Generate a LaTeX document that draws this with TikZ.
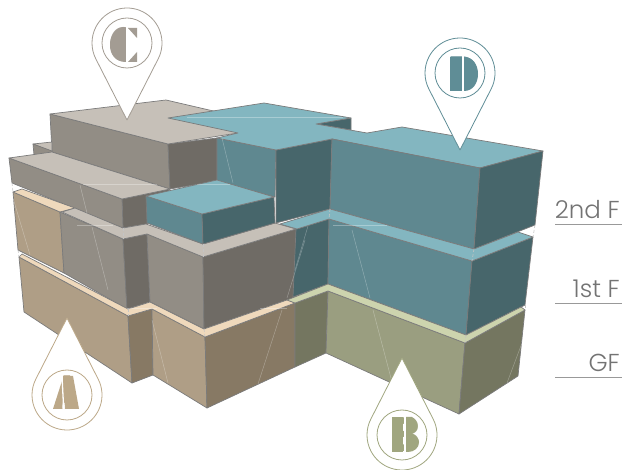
\documentclass[tikz,border=0pt]{standalone}
\usepackage{fontspec}
\usepackage{xcolor}
\usepackage{tikz}
\setmainfont{Poppins}
\newfontfamily\floorfont{Poppins Light}
\definecolor{stonetop}{HTML}{C6C0B8}
\definecolor{stoneface}{HTML}{928D85}
\definecolor{stonedark}{HTML}{6F6B65}
\definecolor{tealtop}{HTML}{83B6C0}
\definecolor{tealface}{HTML}{5F8890}
\definecolor{tealdark}{HTML}{47666B}
\definecolor{tanface}{HTML}{AF9E86}
\definecolor{tandark}{HTML}{877964}
\definecolor{creamtop}{HTML}{EFD9BC}
\definecolor{oliveface}{HTML}{9A9E80}
\definecolor{olivedark}{HTML}{747660}
\definecolor{olivetop}{HTML}{CDD4AE}
\definecolor{edgegray}{HTML}{7B7B7B}
\definecolor{pinA}{HTML}{BCA888}
\definecolor{pinB}{HTML}{A0A67F}
\definecolor{pinC}{HTML}{A39C93}
\definecolor{pinD}{HTML}{5F8D96}
\tikzset{
  slab/.style={draw=edgegray,line width=0.7pt,line join=round},
  seam/.style={white,opacity=0.3,line width=0.5pt},
  corner/.style={white!55!edgegray,line width=0.6pt,densely dashed},
  floorline/.style={gray!80,line width=0.9pt},
  floorname/.style={font=\floorfont\fontsize{24.5}{25}\selectfont,text=black!55,anchor=base east,inner sep=0pt},
  pinletter/.style={font=\bfseries\fontsize{48}{48}\selectfont,inner sep=0pt,transform shape},
  slit/.style={white,line width=2pt}
}
\begin{document}
\begin{tikzpicture}[x=1pt,y=-1pt]
\useasboundingbox (0,0) rectangle (625,470);
\begin{scope}
\fill[stoneface,slab] (50,114)--(168,144)--(170,189)--(52,152)--cycle;
\fill[stonedark,slab] (168,144)--(217,138)--(217,181)--(170,189)--cycle;
\fill[stonetop,slab] (50,114)--(166,100)--(222,113)--(238,133)--(168,144)--cycle;
\fill[tealface,slab] (217,138)--(276,150)--(275,197)--(217,181)--cycle;
\fill[tealdark,slab] (276,150)--(332,139)--(330,209)--(276,223)--cycle;
\fill[tealdark,slab] (316,124)--(351,118)--(351,130)--cycle;
\fill[tealtop,slab] (168,118)--(264,103)--(351,118)--(316,124)--(367,133)--(402,127)--(543,151)--(480,168)--(332,139)--(276,150)--(217,138)--(238,133)--cycle;
\end{scope}
\begin{scope}
\fill[stonetop,slab] (33,144)--(52,142)--(52,152)--cycle;
\fill[stoneface,slab] (33,144)--(52,151)--(52,153)--(34,155)--cycle;
\fill[stonedark,slab] (122,199)--(170,189)--(147,224)--(123,228)--cycle;
\fill[stoneface,slab] (9,158)--(122,199)--(123,228)--(12,183)--cycle;
\fill[stonetop,slab] (9,158)--(52,152)--(170,189)--(122,199)--cycle;
\end{scope}
\begin{scope}
\fill[tanface,slab] (13,192)--(60,212)--(64,273)--(18,250)--cycle;
\fill[creamtop,slab] (13,192)--(22,189)--(75,208)--(60,212)--cycle;
\fill[stoneface,slab] (60,212)--(123,239)--(127,309)--(64,273)--cycle;
\fill[stonedark,slab] (123,239)--(147,234)--(150,302)--(127,309)--cycle;
\fill[stoneface,slab] (147,234)--(203,257)--(204,329)--(150,302)--cycle;
\fill[stonedark,slab] (203,257)--(296,229)--(296,297)--(204,329)--cycle;
\fill[stonetop,slab] (62,212)--(75,208)--(123,228)--(146,224)--(203,244)--(275,223)--(296,229)--(203,257)--(147,234)--(123,239)--cycle;
\fill[tealface,slab] (146,196)--(202,214)--(203,244)--(147,223)--cycle;
\fill[tealdark,slab] (202,214)--(274,197)--(275,223)--(203,244)--cycle;
\fill[tealtop,slab] (146,196)--(217,180)--(274,197)--(202,214)--cycle;
\end{scope}
\begin{scope}
\fill[tealdark,slab] (296,229)--(329,219)--(328,284)--(293,297)--cycle;
\fill[tealface,slab] (329,219)--(472,261)--(466,335)--(328,284)--cycle;
\fill[tealdark,slab] (472,261)--(533,237)--(525,305)--(466,335)--cycle;
\fill[tealface,slab] (332,139)--(480,168)--(474,249)--(330,209)--cycle;
\fill[tealdark,slab] (480,168)--(543,151)--(535,225)--(474,249)--cycle;
\fill[tealtop,slab] (280,224)--(330,209)--(474,249)--(518,232)--(533,237)--(472,261)--(329,219)--(297,229)--cycle;
\end{scope}
\begin{scope}
\fill[tanface,slab] (19,257)--(128,316)--(132,383)--(24,312)--cycle;
\fill[tandark,slab] (128,316)--(152,309)--(153,375)--(132,383)--cycle;
\fill[tanface,slab] (152,309)--(205,337)--(207,408)--(153,375)--cycle;
\fill[tandark,slab] (205,337)--(295,303)--(295,367)--(207,408)--cycle;
\fill[creamtop,slab] (22,254)--(128,309)--(150,302)--(204,329)--(287,300)--(295,303)--(205,337)--(152,309)--(128,316)--(19,257)--cycle;
\fill[olivedark,slab] (295,303)--(328,291)--(326,353)--(295,367)--cycle;
\fill[oliveface,slab] (328,291)--(465,343)--(459,414)--(326,353)--cycle;
\fill[olivedark,slab] (465,343)--(525,310)--(518,376)--(459,414)--cycle;
\fill[olivetop,slab] (287,300)--(328,284)--(466,335)--(521,307)--(525,310)--(465,343)--(328,291)--(295,303)--cycle;
\end{scope}
\foreach \xa/\ya/\xb/\yb in {80/185/87/213,92/227/108/290,222/138/233/183,13/198/30/255,152/320/168/383,282/310/258/384,305/240/287/298,308/226/295/270,352/230/370/298,373/310/392/382,522/343/507/383,187/117/343/117,83/184/157/184,197/184/230/184,77/225/113/225,333/225/387/225,127/308/157/308,260/308/287/308}{
  \draw[seam] (\xa,\ya)--(\xb,\yb);}
\foreach \xa/\ya/\xb/\yb in {123/228/123/239,203/244/203/257,204/329/205/337,128/309/128/316,330/209/329/219,474/249/472/261,466/335/465/343,535/225/533/237,525/305/525/310,12/183/13/192,18/250/19/257}{
  \draw[corner] (\xa,\ya)--(\xb,\yb);}
\foreach \name/\cx/\cy/\flip/\ink/\lx/\ly/\sq in {C/127/43/-1/pinC/123.5/45/0.78,D/460/73/-1/pinD/464/74/0.88,A/67/395/1/pinA/67/392.5/0.67,B/402/435/1/pinB/405.5/434.5/0.96}{
  \begin{scope}[shift={(\cx,\cy)},yscale=\flip]
    \fill[white,draw=\ink,line width=0.8pt,line join=round] (0,-77)--(-27:35) arc[start angle=-27,end angle=207,radius=35]--cycle;
    \draw[\ink,line width=0.8pt] (0,0) circle[radius=25];
  \end{scope}
  \node[pinletter,text=\ink,xscale=\sq] (letter\name) at (\lx,\ly) {\name};
}
\fill[pinC] (126,28) .. controls (115,28) and (110,36) .. (110,45) .. controls (110,54) and (115,62) .. (126,62)--cycle;
\fill[white] (127,27)--(127,63)--(140,51)--(140,39)--cycle;
\fill[pinC] (128,28)--(137,28)--(137,38)--cycle;
\fill[pinC] (128,62)--(137,62)--(137,52)--cycle;
\draw[slit] (127.3,24)--(127.3,66);
\fill[pinD] (464,57) .. controls (473,57) and (478,65) .. (478,74) .. controls (478,83) and (473,91) .. (464,91)--cycle;
\fill[pinD] (450,57) rectangle (462,91);
\draw[slit] (463,54)--(463,94);
\fill[pinB] (392,417) rectangle (403,452);
\fill[pinB] (406,417)--(412,417) .. controls (416,419) and (417,422) .. (417,425) .. controls (417,429) and (414,432) .. (410,434) .. controls (415,435) and (419,438) .. (419,442) .. controls (419,448) and (414,452) .. (408,452)--(406,452)--cycle;
\draw[slit] (404.5,414)--(404.5,455);
\fill[pinA] (63,376)--(73,376)--(79,409)--(65,409)--cycle;
\fill[pinA] (62,381)--(62.5,409)--(53,409)--cycle;
\draw[white,line width=1.3pt] (62,376)--(63.8,411);
\node[floorname] (floorTwo) at (620,219) {2nd F};
\node[floorname] (floorOne) at (620,298) {1st F};
\node[floorname] (floorGround) at (620,372) {GF};
\draw[floorline] (555,224.5)--(622,224.5);
\draw[floorline] (555,303)--(622,303);
\draw[floorline] (555,377)--(622,377);
\end{tikzpicture}
\end{document}
